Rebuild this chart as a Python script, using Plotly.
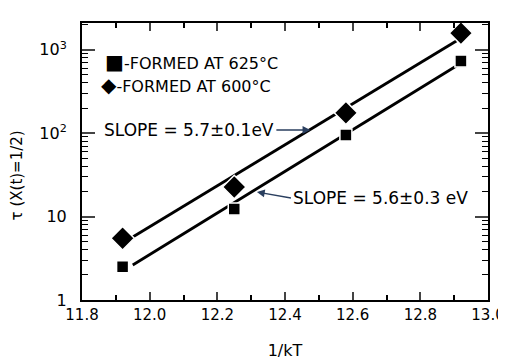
import plotly.graph_objects as go
import math

# data
x_625 = [11.92, 12.25, 12.58, 12.92]
tau_625 = [2.5, 12.3, 95, 730]
x_600 = [11.92, 12.25, 12.58, 12.92]
tau_600 = [5.5, 22.6, 175, 1580]

# fitted lines (end points)
fit_x_625 = [11.95, 12.91]
fit_tau_625 = [2.63, 652]
fit_x_600 = [11.95, 12.91]
fit_tau_600 = [5.7, 1300]

legend_labels = ["-FORMED AT 625\u00b0C", "-FORMED AT 600\u00b0C"]
legend_symbols = ["\u25a0", "\u25c6"]
slope_labels = ["SLOPE = 5.7\u00b10.1eV", "SLOPE = 5.6\u00b10.3 eV"]

x_ticks = [11.8, 12.0, 12.2, 12.4, 12.6, 12.8, 13.0]
x_ticktext = ["11.8", "12.0", "12.2", "12.4", "12.6", "12.8", "13.0"]
y_ticks = [1, 10, 100, 1000]
y_ticktext = ["1", "10", "10<sup>2</sup>", "10<sup>3</sup>"]
y_minor = [m * 10 ** d for d in range(0, 4) for m in range(2, 10)]

FONT = "DejaVu Sans"

fig = go.Figure()
fig.add_trace(go.Scatter(x=fit_x_600, y=fit_tau_600, mode="lines",
                         line=dict(color="black", width=2.8), showlegend=False))
fig.add_trace(go.Scatter(x=fit_x_625, y=fit_tau_625, mode="lines",
                         line=dict(color="black", width=2.8), showlegend=False))
fig.add_trace(go.Scatter(x=x_625, y=tau_625, mode="markers",
                         marker=dict(symbol="square", size=12, color="black",
                                     line=dict(color="white", width=1.5)),
                         showlegend=False))
fig.add_trace(go.Scatter(x=x_600, y=tau_600, mode="markers",
                         marker=dict(symbol="diamond", size=18, color="black",
                                     line=dict(color="white", width=1.5)),
                         showlegend=False))

fig.add_annotation(x=0.052, y=0.859, xref="paper", yref="paper", xanchor="left",
                   yanchor="middle",
                   text="<span style='font-size:20px'>" + legend_symbols[0] + "</span>" + legend_labels[0],
                   showarrow=False, font=dict(family=FONT, size=16, color="black"))
fig.add_annotation(x=0.042, y=0.776, xref="paper", yref="paper", xanchor="left",
                   yanchor="middle",
                   text="<span style='font-size:20px'>" + legend_symbols[1] + "</span>" + legend_labels[1],
                   showarrow=False, font=dict(family=FONT, size=16, color="black"))

fig.add_annotation(x=12.475, y=math.log10(109), xref="x", yref="y",
                   ax=-34, ay=0, axref="pixel", ayref="pixel",
                   text=slope_labels[0], showarrow=True, arrowhead=2, arrowsize=1.2,
                   arrowwidth=1.3, xanchor="right",
                   font=dict(family=FONT, size=17, color="black"))
fig.add_annotation(x=12.317, y=math.log10(19.7), xref="x", yref="y",
                   ax=34, ay=6, axref="pixel", ayref="pixel",
                   text=slope_labels[1], showarrow=True, arrowhead=2, arrowsize=1.2,
                   arrowwidth=1.3, xanchor="left",
                   font=dict(family=FONT, size=17, color="black"))

# y-axis title
fig.add_annotation(x=-0.16, y=0.45, xref="paper", yref="paper", textangle=-90,
                   xanchor="center", yanchor="middle",
                   text="\u03c4 (X(t)=1/2)", showarrow=False,
                   font=dict(family=FONT, size=15, color="black"))

fig.update_layout(
    width=506, height=360,
    margin=dict(l=74, r=26, t=15, b=68, autoexpand=False),
    paper_bgcolor="white", plot_bgcolor="white",
    font=dict(family=FONT, size=16, color="black"),
    showlegend=False,
)
fig.update_xaxes(
    range=[11.8, 13.0], tickvals=x_ticks, ticktext=x_ticktext, automargin=False,
    ticks="inside", ticklen=8, tickwidth=1.6, mirror="ticks",
    showline=True, linewidth=2, linecolor="black", showgrid=False, zeroline=False,
    minor=dict(tickmode="linear", tick0=11.8, dtick=0.1, ticks="inside", ticklen=5,
               tickwidth=1.6, tickcolor="black", showgrid=False),
    title=dict(text="1/kT", font=dict(family=FONT, size=16), standoff=22),
    tickfont=dict(family=FONT, size=15), ticklabeloverflow="allow",
)
fig.update_yaxes(
    type="log", range=[0, 3.32], tickvals=y_ticks, ticktext=y_ticktext, automargin=False,
    ticks="inside", ticklen=13, tickwidth=1.6, mirror="ticks",
    showline=True, linewidth=2, linecolor="black", showgrid=False, zeroline=False,
    minor=dict(tickmode="array", tickvals=y_minor, ticks="inside", ticklen=6,
               tickwidth=1.4, tickcolor="black", showgrid=False),
    tickfont=dict(family=FONT, size=16), ticklabelstandoff=10,
)

fig.write_html("out.html")
